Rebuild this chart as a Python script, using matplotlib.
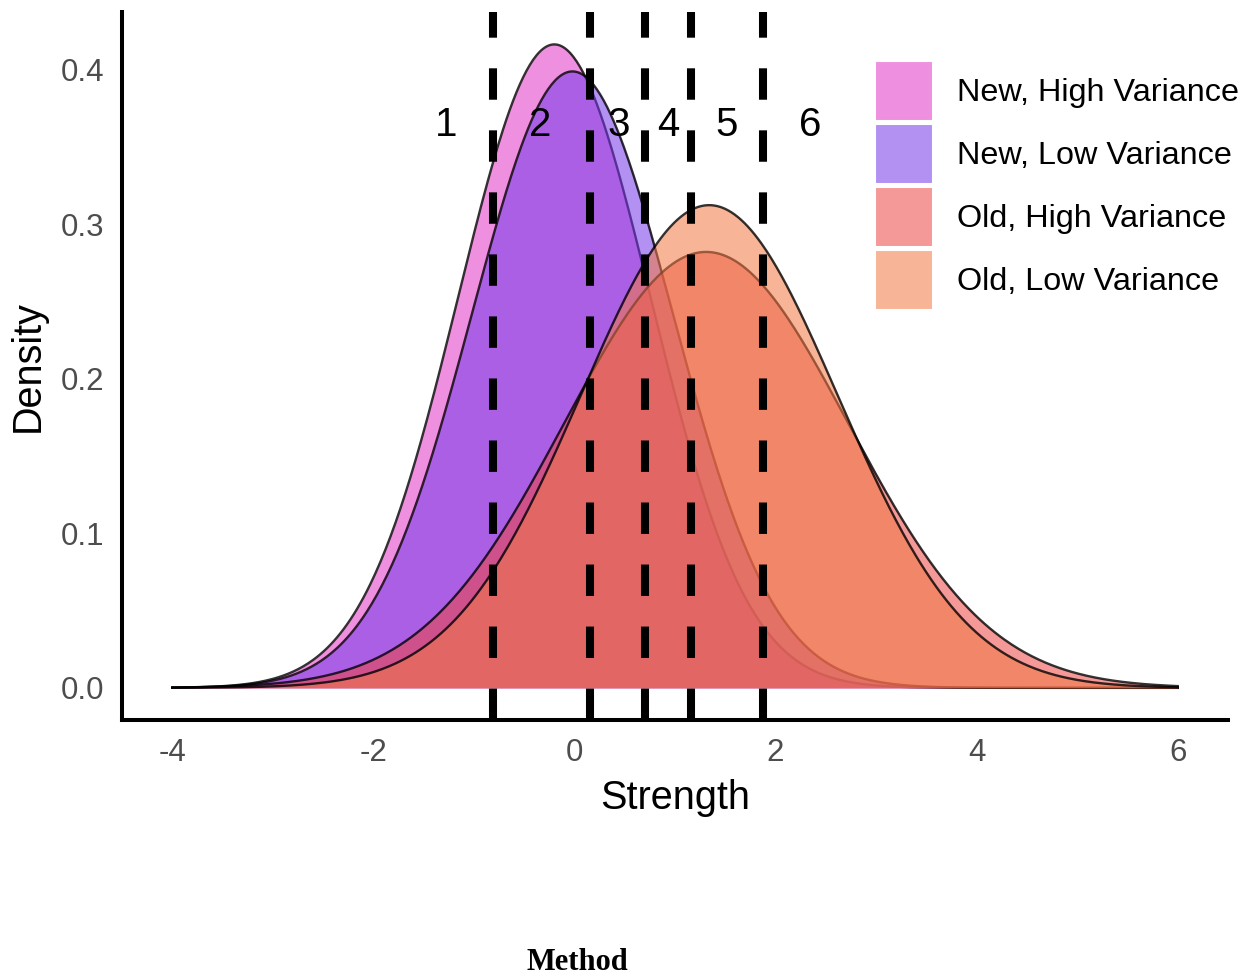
import numpy as np
import matplotlib
matplotlib.use("Agg")
import matplotlib.pyplot as plt
from matplotlib.patches import Patch
from matplotlib.colors import to_rgba

plt.rcParams["font.family"] = ["Liberation Sans", "DejaVu Sans"]

# ------------------------------------------------------------------
# Data
# ------------------------------------------------------------------
groups = ["New, High Variance", "New, Low Variance",
          "Old, High Variance", "Old, Low Variance"]
means = [-0.20, -0.02, 1.31, 1.34]
sds = [0.958, 1.00, 1.414, 1.277]
fill_colors = ["#E437C6", "#763BEA", "#ED4747", "#F17945"]

cutpoints = [-0.806, 0.159, 0.706, 1.164, 1.871]
region_labels = ["1", "2", "3", "4", "5", "6"]
label_x = [-1.28, -0.34, 0.44, 0.93, 1.51, 2.34]
label_y = 0.364

x_range = (-4, 6)
x_ticks = [-4, -2, 0, 2, 4, 6]
y_ticks = [0.0, 0.1, 0.2, 0.3, 0.4]

FILL_ALPHA = 0.56


def normal_density(x, mu, sd):
    return np.exp(-0.5 * ((x - mu) / sd) ** 2) / (sd * np.sqrt(2 * np.pi))


fig = plt.figure(figsize=(12.6, 9.76), dpi=100)
ax = fig.add_axes([122 / 1260, 1 - 720 / 976, (1228 - 122) / 1260, (720 - 12) / 976])

xs = np.linspace(x_range[0], x_range[1], 600)
for i, (mu, sd, col) in enumerate(zip(means, sds, fill_colors)):
    ys = normal_density(xs, mu, sd)
    ax.fill_between(xs, 0, ys, color=col, alpha=FILL_ALPHA, lw=0, zorder=2 + i)
    ax.plot(xs, ys, color="black", alpha=0.8, lw=1.7, zorder=2 + i)

ax.set_xlim(-4.5, 6.5)
ax.set_ylim(-0.0208, 0.4374)
y0, y1 = ax.get_ylim()

# dashed cut lines, drawn from the bottom up
for cx in cutpoints:
    ax.plot([cx, cx], [y0, y1], color="black", lw=5.8,
            linestyle=(0, (3.9, 3.8)), zorder=10)

for lx, lab in zip(label_x, region_labels):
    ax.text(lx, label_y, lab, ha="center", va="center", fontsize=29,
            color="black", zorder=11)

for side in ["top", "right"]:
    ax.spines[side].set_visible(False)
for side in ["left", "bottom"]:
    ax.spines[side].set_linewidth(2.9)
    ax.spines[side].set_color("black")

ax.set_xticks(x_ticks)
ax.set_yticks(y_ticks)
ax.set_xticklabels([str(t) for t in x_ticks])
ax.set_yticklabels([f"{t:.1f}" for t in y_ticks])
ax.tick_params(length=0, labelsize=22.5, labelcolor="#4D4D4D", pad=13)
ax.set_xlabel("Strength", fontsize=28.5, labelpad=8)
ax.set_ylabel("Density", fontsize=28.5, labelpad=10)

handles = [Patch(facecolor=to_rgba(c, FILL_ALPHA), edgecolor="white", lw=1.5)
           for c in fill_colors]
ax.legend(handles, groups, loc="upper left",
          bbox_to_anchor=(875 / 1260, 1 - 61 / 976), bbox_transform=fig.transFigure,
          frameon=False, fontsize=23.3, handlelength=1.8, handleheight=2.475,
          labelspacing=0.093, handletextpad=0.72, borderpad=0, borderaxespad=0)

fig.text(577 / 1260, 1 - 962 / 976, "Method", family="Liberation Serif",
         weight="bold", fontsize=22, ha="center", va="center")

fig.savefig("out.png", dpi=100)
